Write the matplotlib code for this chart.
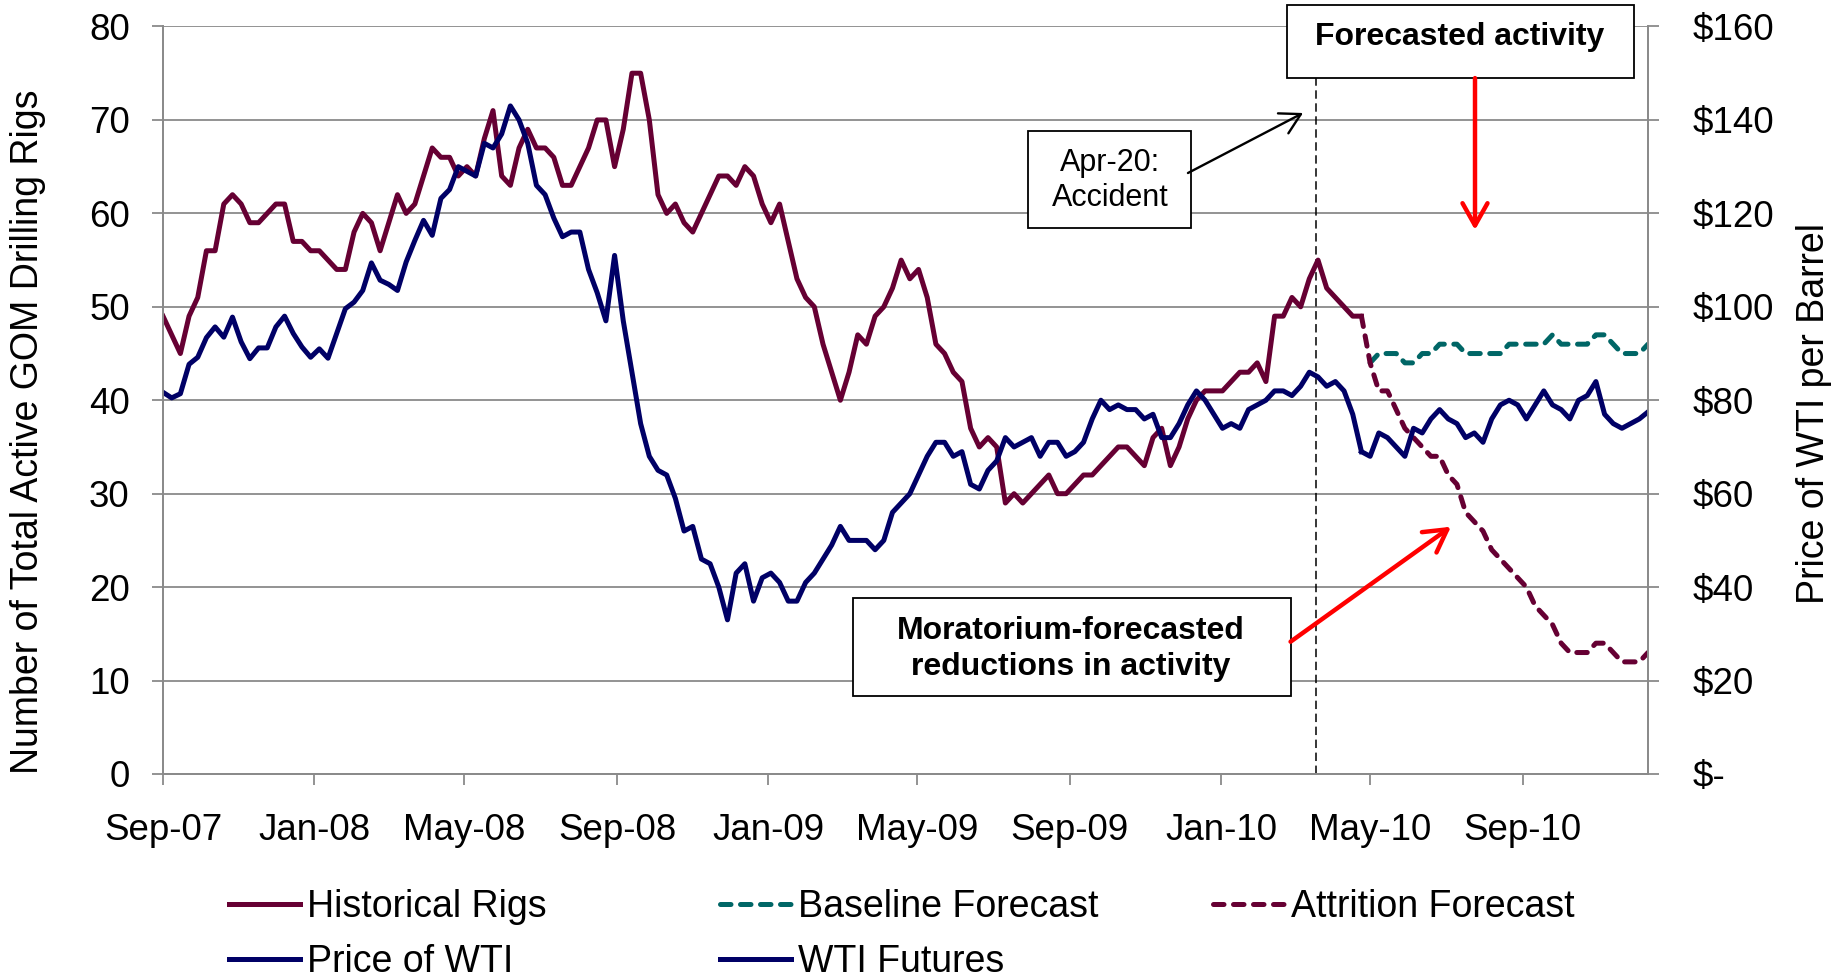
import matplotlib
matplotlib.use("Agg")
import matplotlib.pyplot as plt
from matplotlib.patches import Rectangle, FancyArrowPatch
import numpy as np
import pandas as pd

plt.rcParams['font.family'] = ['Liberation Sans', 'DejaVu Sans']

# weekly data, first week is Sep 7 2007
start_week = "2007-09-07"
n_weeks = 172

# weeks 0-138
historical_rigs = [49, 47, 45, 49, 51, 56, 56, 61, 62, 61, 59, 59, 60, 61, 61, 57, 57, 56, 56, 55,
                   54, 54, 58, 60, 59, 56, 59, 62, 60, 61, 64, 67, 66, 66, 64, 65, 64, 68, 71, 64,
                   63, 67, 69, 67, 67, 66, 63, 63, 65, 67, 70, 70, 65, 69, 75, 75, 70, 62, 60, 61,
                   59, 58, 60, 62, 64, 64, 63, 65, 64, 61, 59, 61, 57, 53, 51, 50, 46, 43, 40, 43,
                   47, 46, 49, 50, 52, 55, 53, 54, 51, 46, 45, 43, 42, 37, 35, 36, 35, 29, 30, 29,
                   30, 31, 32, 30, 30, 31, 32, 32, 33, 34, 35, 35, 34, 33, 36, 37, 33, 35, 38, 40,
                   41, 41, 41, 42, 43, 43, 44, 42, 49, 49, 51, 50, 53, 55, 52, 51, 50, 49, 49]

# weeks 0-138, $ per barrel
price_wti = [81.7, 80.5, 81.4, 87.7, 89.2, 93.4, 95.7, 93.5, 97.8, 92.5, 88.9, 91.2, 91.2, 95.7,
             98, 94.3, 91.4, 89.2, 91, 89, 94.3, 99.6, 101, 103.5, 109.4, 105.7, 104.8, 103.5,
             109.6, 114.2, 118.5, 115.3, 123.2, 125.1,
             130, 129, 128, 135, 134, 137, 143, 140, 135, 126, 124, 119, 115, 116, 116, 108,
             103, 97, 111, 97, 86, 75, 68, 65, 64, 59, 52, 53, 46, 45, 40, 33, 43, 45,
             37, 42, 43, 41, 37, 37, 41, 43, 46, 49, 53, 50, 50, 50, 48, 50, 56, 58, 60, 64,
             68, 71, 71, 68, 69, 62, 61, 65, 67, 72, 70, 71, 72, 68,
             71, 71, 68, 69, 71, 76, 80, 78, 79, 78, 78, 76, 77, 72, 72, 75, 79, 82, 80, 77,
             74, 75, 74, 78, 79, 80, 82, 82, 81, 83, 86, 85, 83, 84, 82, 77, 69]

# weeks 138-171
wti_futures = [69, 68, 73, 72, 70, 68, 74, 73, 76, 78, 76, 75, 72, 73, 71, 76, 79, 80, 79, 76,
               79, 82, 79, 78, 76, 80, 81, 84, 77, 75, 74, 75, 76, 77.5]

# weeks 139-171
baseline_forecast = [44, 45, 45, 45, 44, 44, 45, 45, 46, 46, 46, 45, 45, 45, 45, 45, 46, 46, 46,
                     46, 46, 47, 46, 46, 46, 46, 47, 47, 46, 45, 45, 45, 46]

# weeks 138-171
attrition_forecast = [49, 44, 41, 41, 39, 37, 36, 35, 34, 34, 32, 31, 28, 27, 26, 24, 23, 22, 21,
                      20, 18, 17, 16, 14, 13, 13, 13, 14, 14, 13, 12, 12, 12, 13]

accident_line_date = "2010-03-24"

rig_ticks = [0, 10, 20, 30, 40, 50, 60, 70, 80]
price_ticks = [0, 20, 40, 60, 80, 100, 120, 140, 160]
price_tick_labels = ["$-", "$20", "$40", "$60", "$80", "$100", "$120", "$140", "$160"]

weeks = pd.date_range(start_week, periods=n_weeks, freq="7D")
x_hist = weeks[:len(historical_rigs)]
x_fut = weeks[138:]
x_base = weeks[139:]

c_rig = "#660033"
c_wti = "#000066"
c_base = "#006666"
grid_c = "#8a8a8a"
fs = 26.5

fig = plt.figure(figsize=(18.41, 9.77), dpi=100)
ax = fig.add_axes([0.08854, 0.20778, 0.80663, 0.7651])
ax2 = ax.twinx()

lw = 3.6
dash = (2.1, 1.9)
l_hist, = ax.plot(x_hist, historical_rigs, color=c_rig, lw=lw)
l_base, = ax.plot(x_base, baseline_forecast, color=c_base, lw=lw, dashes=dash,
                  dash_capstyle='round')
l_attr, = ax.plot(x_fut, attrition_forecast, color=c_rig, lw=lw, dashes=dash,
                  dash_capstyle='round')
l_wti, = ax2.plot(x_hist, price_wti, color=c_wti, lw=lw)
l_fut, = ax2.plot(x_fut, wti_futures, color=c_wti, lw=lw)

ax.axvline(pd.Timestamp(accident_line_date), color='black', lw=1.1, dashes=(5.5, 3), zorder=1)

ax.set_xlim(weeks[0], weeks[-1])
ax.set_ylim(0, 80)
ax2.set_ylim(0, 160)
ax.set_yticks(rig_ticks)
ax2.set_yticks(price_ticks)
ax2.set_yticklabels(price_tick_labels, ha='left')

tick_dates = pd.date_range(start_week, weeks[-1], freq=pd.DateOffset(months=4))
ax.set_xticks(tick_dates)
ax.set_xticklabels([d.strftime("%b-%y") for d in tick_dates])

ax.grid(axis='y', color=grid_c, lw=1.3)
ax.set_axisbelow(True)
for a in (ax, ax2):
    for s in a.spines.values():
        s.set_color(grid_c)
        s.set_linewidth(1.3)
    a.spines['top'].set_visible(False)
ax.tick_params(axis='x', direction='out', length=8, width=1.3, color=grid_c, labelsize=fs, pad=20)
ax.tick_params(axis='y', direction='out', length=8, width=1.3, color=grid_c, labelsize=fs, pad=16)
ax2.tick_params(axis='y', direction='out', length=8, width=1.3, color=grid_c, labelsize=fs, pad=24)

fig.text(28 / 1841, 1 - 432 / 977, "Number of Total Active GOM Drilling Rigs", rotation=90,
         ha='center', va='center', fontsize=27)
fig.text(1814 / 1841, 1 - 413 / 977, "Price of WTI per Barrel", rotation=90,
         ha='center', va='center', fontsize=27)

# annotation boxes and arrows (axes fraction)
def box(x0, y0, x1, y1):
    r = Rectangle((x0, y0), x1 - x0, y1 - y0, transform=ax2.transAxes, facecolor='white',
                  edgecolor='black', lw=1.3, clip_on=False, zorder=10)
    ax2.add_patch(r)

box(0.7569, 0.931, 0.9906, 1.0287)
ax2.text(0.8734, 0.9865, "Forecasted activity", transform=ax2.transAxes, ha='center',
         va='center', fontsize=23, fontweight='bold', zorder=11)
box(0.5825, 0.7304, 0.6923, 0.8602)
ax2.text(0.6377, 0.794, "Apr-20:\nAccident", transform=ax2.transAxes, ha='center',
         va='center', fontsize=22, zorder=11, linespacing=1.25)
box(0.4644, 0.1043, 0.7593, 0.2355)
ax2.text(0.6114, 0.1672, "Moratorium-forecasted\nreductions in activity", transform=ax2.transAxes,
         ha='center', va='center', fontsize=23, fontweight='bold', zorder=11, linespacing=1.3)

arrows = [((0.8835, 0.931), (0.8835, 0.7278), 'red', 3.2, 20),
          ((0.7593, 0.177), (0.8673, 0.3308), 'red', 3.2, 20),
          ((0.6902, 0.804), (0.7677, 0.8843), 'black', 1.7, 18)]
for (p0, p1, col, alw, ms) in arrows:
    ar = FancyArrowPatch(p0, p1, transform=ax2.transAxes, arrowstyle="->,head_length=0.8,head_width=0.45",
                         mutation_scale=ms, color=col, lw=alw, clip_on=False, zorder=12,
                         shrinkA=0, shrinkB=0)
    ax2.add_patch(ar)

# legend in three columns
cols = [([l_hist, l_wti], ["Historical Rigs", "Price of WTI"], 229),
        ([l_base, l_fut], ["Baseline Forecast", "WTI Futures"], 720),
        ([l_attr], ["Attrition Forecast"], 1213)]
for handles, labels, xpx in cols:
    lg = fig.legend(handles, labels, loc='upper left', bbox_to_anchor=(xpx / 1841, 1 - 889 / 977),
                    frameon=False, fontsize=27, handlelength=1.9, handletextpad=0.17,
                    borderpad=0, borderaxespad=0, labelspacing=0.5)

fig.savefig("out.png", dpi=100, facecolor='white')
